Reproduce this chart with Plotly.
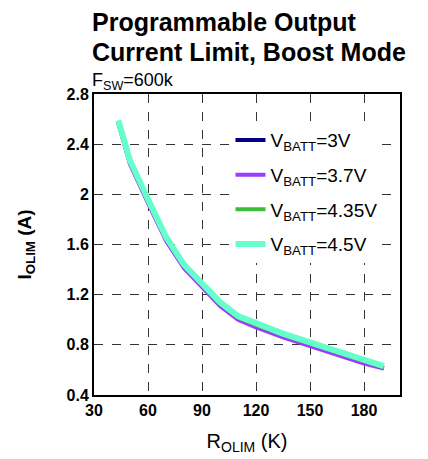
import plotly.graph_objects as go

r_olim = [43.5, 50, 60, 70, 80, 90, 100, 110, 120, 135, 150, 165, 180, 191]
i_3v = [2.57, 2.25, 1.94, 1.64, 1.42, 1.27, 1.12, 1.01, 0.95, 0.87, 0.80, 0.73, 0.66, 0.615]
i_37v = [2.57, 2.24, 1.93, 1.63, 1.41, 1.26, 1.11, 1.00, 0.94, 0.86, 0.79, 0.72, 0.65, 0.61]
i_435v = [2.58, 2.26, 1.95, 1.65, 1.43, 1.28, 1.13, 1.02, 0.96, 0.88, 0.81, 0.74, 0.67, 0.62]
i_45v = [2.59, 2.27, 1.96, 1.66, 1.44, 1.29, 1.14, 1.03, 0.97, 0.89, 0.82, 0.75, 0.68, 0.63]

series = [
    ("V<sub>BATT</sub>=3V", i_3v, "#000080", 4),
    ("V<sub>BATT</sub>=3.7V", i_37v, "#9B3DFF", 4),
    ("V<sub>BATT</sub>=4.35V", i_435v, "#3CBE3C", 4),
    ("V<sub>BATT</sub>=4.5V", i_45v, "#66FFCC", 6),
]

x_ticks = [30, 60, 90, 120, 150, 180]
y_ticks = [0.4, 0.8, 1.2, 1.6, 2.0, 2.4, 2.8]
y_labels = ["0.4", "0.8", "1.2", "1.6", "2", "2.4", "2.8"]

fig = go.Figure()
for k, (name, vals, color, w) in enumerate(series):
    fig.add_trace(go.Scatter(x=r_olim, y=vals, mode="lines", name=name, legendgroup=f"g{k}",
                             line=dict(color=color, width=w)))

font = "Liberation Sans, Arial, sans-serif"
axis_common = dict(showline=True, mirror=True, linecolor="black", linewidth=2,
                   showgrid=True, gridcolor="#333333", griddash="dash", gridwidth=1,
                   zeroline=False, ticks="", automargin=False,
                   tickfont=dict(family=font, size=16, color="black", weight="bold"))

fig.update_layout(
    width=428, height=459,
    margin=dict(l=86, r=36, t=86, b=72),
    paper_bgcolor="white", plot_bgcolor="white",
    xaxis=dict(range=[30, 200], tickvals=x_ticks, **axis_common,
               title=dict(text="R<sub>OLIM</sub> (K)", font=dict(family=font, size=20, color="black"), standoff=16)),
    yaxis=dict(range=[0.4, 2.8], tickvals=y_ticks, ticktext=y_labels, **axis_common,
               title=dict(text="I<sub>OLIM</sub> (A)", font=dict(family=font, size=19, color="black", weight="bold"), standoff=30)),
    legend=dict(x=0.446, y=0.91, xanchor="left", yanchor="top",
                bgcolor="white", borderwidth=0, tracegroupgap=7, itemwidth=30,
                font=dict(family=font, size=19, color="black")),
    showlegend=True,
)
fig.add_annotation(text="<b>Programmable Output</b>", xref="paper", yref="paper", x=0, y=1.239,
                   xanchor="left", yanchor="middle", showarrow=False, xshift=-4,
                   font=dict(family=font, size=25, color="black"))
fig.add_annotation(text="<b>Current Limit, Boost Mode</b>", xref="paper", yref="paper", x=0, y=1.1395,
                   xanchor="left", yanchor="middle", showarrow=False, xshift=-4,
                   font=dict(family=font, size=25, color="black"))
fig.add_annotation(text="F<sub>SW</sub>=600k", xref="paper", yref="paper", x=0, y=1.04,
                   xanchor="left", yanchor="middle", showarrow=False, xshift=-4,
                   font=dict(family=font, size=18, color="black"))

fig.write_html("out.html")
